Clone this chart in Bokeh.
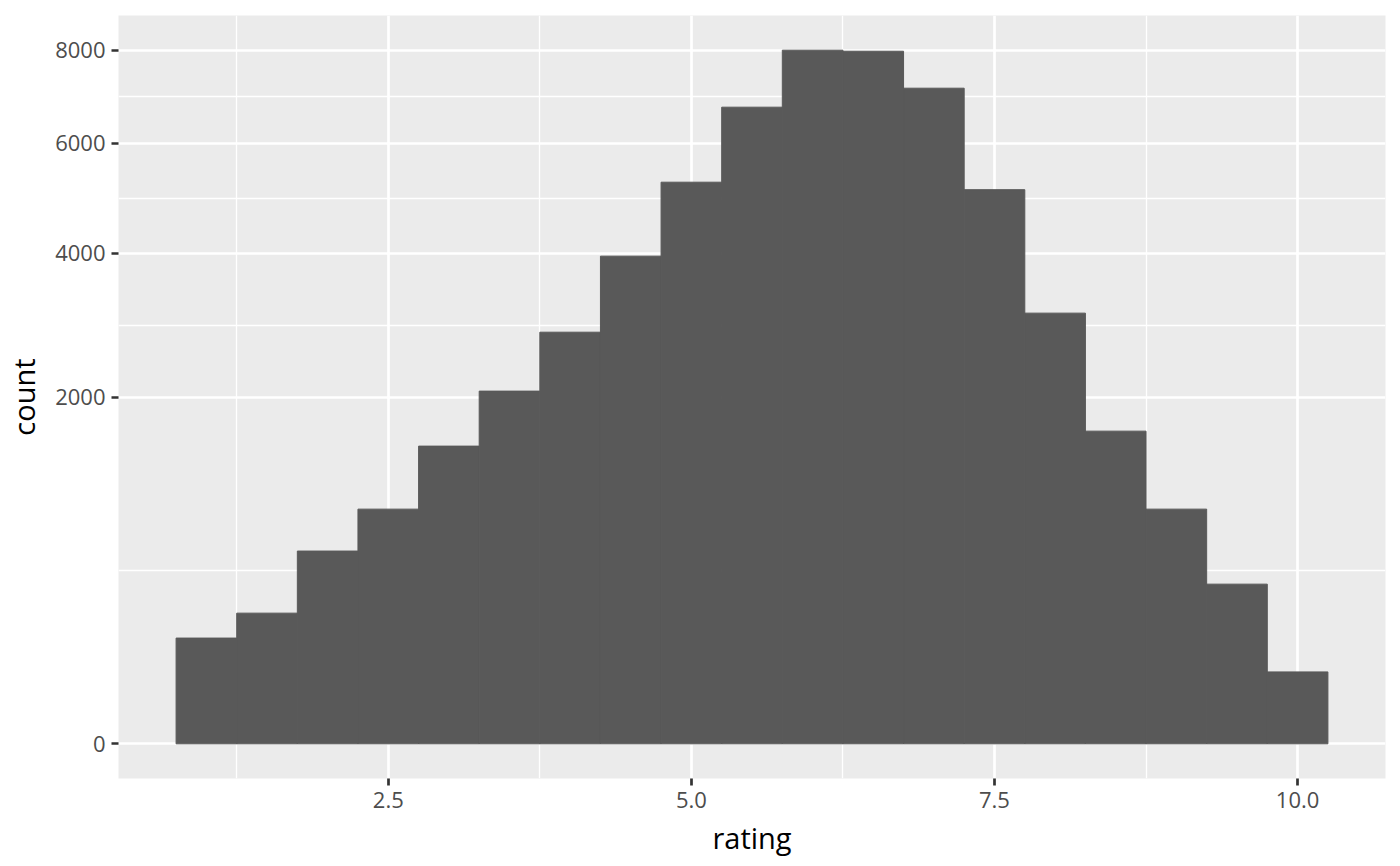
import numpy as np
from bokeh.plotting import figure
from bokeh.models import Range1d, FixedTicker, CustomJSTickFormatter, ColumnDataSource
from bokeh.embed import file_html
from bokeh.resources import INLINE

# Data: histogram of ratings (bin width 0.5), counts
bin_centers = [1.0, 1.5, 2.0, 2.5, 3.0, 3.5, 4.0, 4.5, 5.0, 5.5,
               6.0, 6.5, 7.0, 7.5, 8.0, 8.5, 9.0, 9.5, 10.0]
counts = [186, 284, 618, 916, 1474, 2069, 2818, 3955, 5246, 6741,
          8002, 7978, 7149, 5107, 3085, 1626, 916, 424, 86]
bin_width = 0.5
x_ticks = [2.5, 5.0, 7.5, 10.0]
y_ticks = [0, 2000, 4000, 6000, 8000]

FONT = "Open Sans"

# sqrt-transformed y scale (like scale_y_sqrt)
sq_counts = np.sqrt(np.array(counts, dtype=float))
sq_major = np.sqrt(np.array(y_ticks, dtype=float))
sq_minor = [(sq_major[i] + sq_major[i + 1]) / 2 for i in range(len(sq_major) - 1)]

x_lo = min(bin_centers) - bin_width / 2
x_hi = max(bin_centers) + bin_width / 2
x_pad = 0.05 * (x_hi - x_lo)
y_hi = sq_counts.max()
y_pad = 0.05 * y_hi

x_minor = [(a + b) / 2 for a, b in zip([0.0] + x_ticks[:-1], x_ticks)]

p = figure(width=1400, height=866, output_backend="svg", toolbar_location=None,
           x_range=Range1d(x_lo - x_pad, x_hi + x_pad),
           y_range=Range1d(-y_pad, y_hi + y_pad),
           min_border_left=118, min_border_right=15, min_border_top=15, min_border_bottom=88)

p.background_fill_color = "#EBEBEB"
p.border_fill_color = "white"
p.outline_line_color = None

src = ColumnDataSource(dict(x=bin_centers, top=sq_counts, count=counts))
p.vbar(x="x", top="top", bottom=0, width=bin_width, source=src,
       fill_color="#595959", line_color="#595959", line_width=1.0)

p.xaxis.ticker = FixedTicker(ticks=x_ticks, minor_ticks=x_minor)
p.yaxis.ticker = FixedTicker(ticks=list(sq_major), minor_ticks=sq_minor)
p.xaxis.formatter = CustomJSTickFormatter(code="return tick.toFixed(1);")
p.yaxis.formatter = CustomJSTickFormatter(code="return Math.round(tick*tick).toString();")

for g in p.grid:
    g.grid_line_color = "white"
    g.grid_line_width = 2.7
    g.minor_grid_line_color = "white"
    g.minor_grid_line_width = 1.35

for ax in p.axis:
    ax.axis_line_color = None
    ax.major_tick_line_color = "#333333"
    ax.major_tick_line_width = 2.7
    ax.major_tick_in = 0
    ax.major_tick_out = 7
    ax.minor_tick_line_color = None
    ax.major_label_text_font = FONT
    ax.major_label_text_font_size = "22px"
    ax.major_label_text_color = "#4D4D4D"
    ax.major_label_standoff = 6
    ax.axis_label_text_font = FONT
    ax.axis_label_text_font_size = "29px"
    ax.axis_label_text_font_style = "normal"
    ax.axis_label_text_color = "black"

p.xaxis.axis_label = "rating"
p.yaxis.axis_label = "count"
p.xaxis.axis_label_standoff = 7
p.yaxis.axis_label_standoff = 9

open("out.html", "w").write(file_html(p, INLINE))
